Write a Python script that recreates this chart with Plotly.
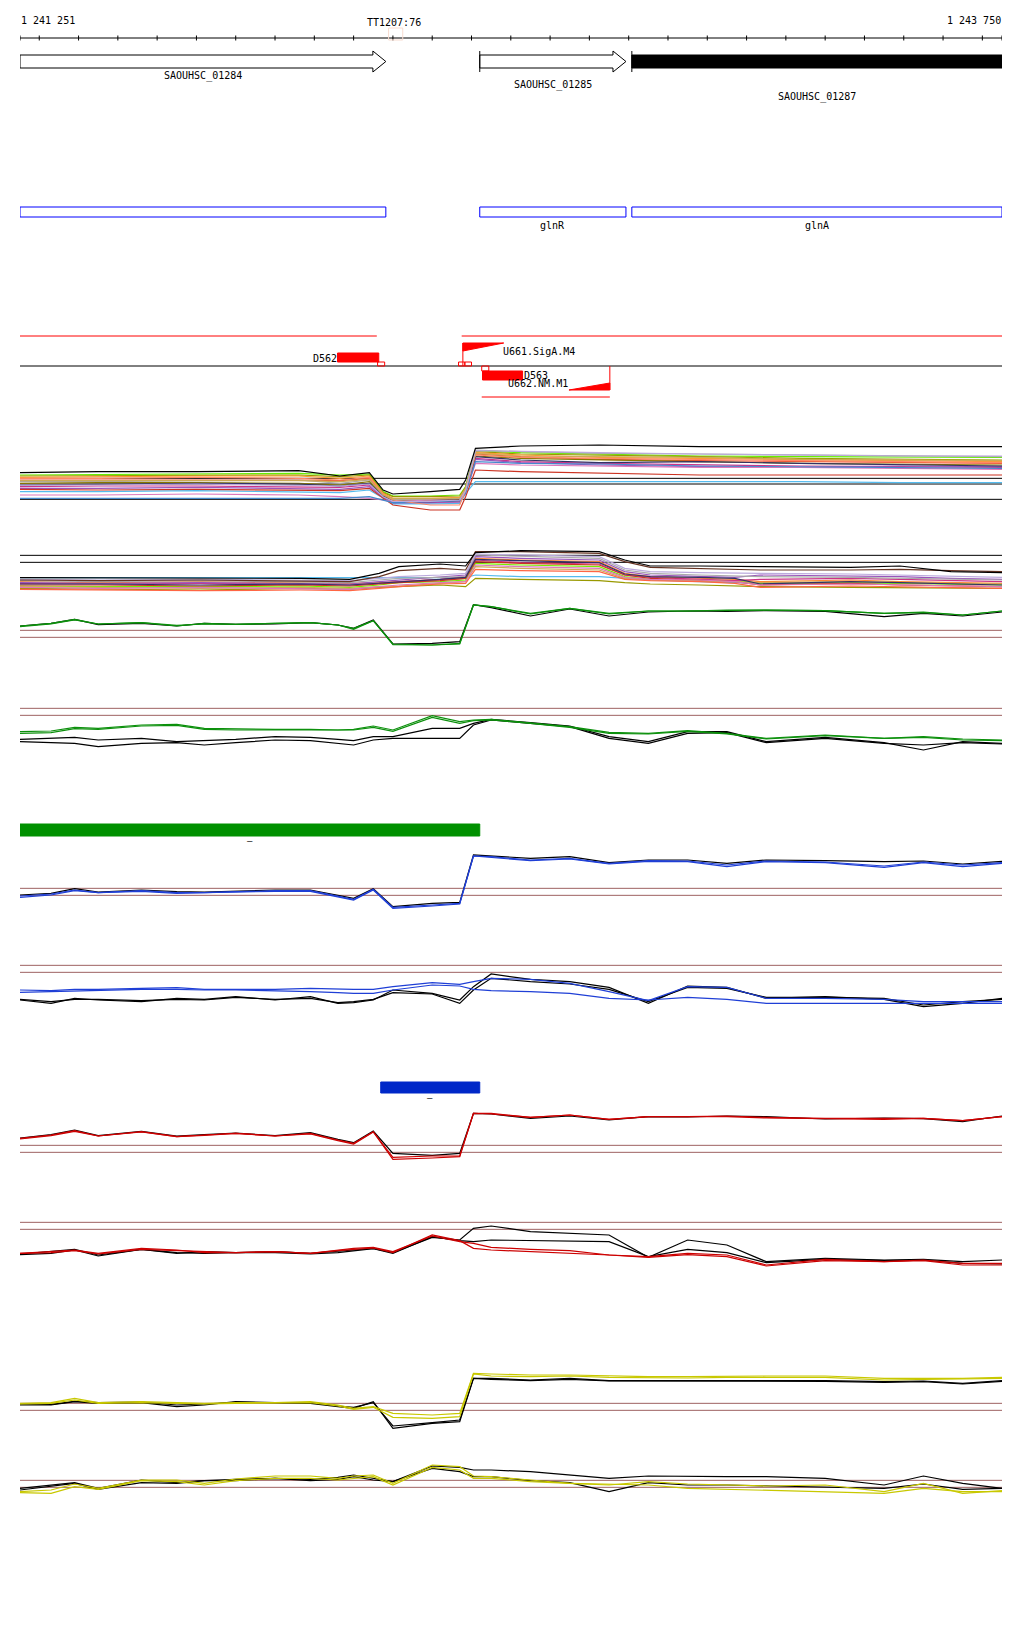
import plotly.graph_objects as go

# ── view window ─────────────────────────────────────────────
VIEW_START = 1241251
VIEW_END = 1243750
RULER_STEP = 100
TT_POS = 1242203
TT_LABEL = "TT1207:76"

# ── genes / CDS ─────────────────────────────────────────────
GENE_NAMES = ["SAOUHSC_01284", "SAOUHSC_01285", "SAOUHSC_01287"]
GENE_START = [1241251, 1242421, 1242808]
GENE_END = [1242182, 1242793, 1244400]
CDS_NAMES = ["", "glnR", "glnA"]
SELECTED_GENE = "SAOUHSC_01287"

# ── transcription units, TSS, segments ──────────────────────
SEG_NAMES = ["D562", "D563"]
SEG_START = [1242059, 1242428]
SEG_END = [1242164, 1242530]
SEG_STRAND = ["+", "-"]
TSS_NAMES = ["U661.SigA.M4", "U662.NM.M1"]
TSS_POS = [1242378, 1242752]
TSS_STRAND = ["+", "-"]
TU_PLUS = [(1241251, 1242159), (1242375, 1243750)]
TU_MINUS = [(1242426, 1242752)]
MARK_PLUS = [(1242161, 1242179), (1242367, 1242383), (1242383, 1242400)]
MARK_MINUS = [(1242426, 1242444)]

# ── condition bars ──────────────────────────────────────────
BAR_START = [1241251, 1242169]
BAR_END = [1242421, 1242421]
BAR_LABELS = ["–", "–"]

# ── expression profiles (arbitrary signal units) ────────────
X_T1 = [1241251, 1241450, 1241700, 1241960, 1242065, 1242140, 1242175, 1242200, 1242295,
        1242370, 1242385, 1242410, 1242525, 1242725, 1242980, 1243235, 1243490, 1243750]
T1_VALUES = [
    [135, 137, 138, 140, 135, 138, 85, 72, 72, 75, 100, 208, 202, 198, 192, 190, 188, 188],
    [132, 133, 134, 135, 130, 135, 82, 70, 70, 72, 98, 205, 198, 195, 190, 185, 182, 180],
    [128, 130, 132, 132, 125, 132, 80, 65, 65, 68, 95, 202, 195, 188, 185, 182, 178, 175],
    [120, 120, 122, 120, 118, 125, 75, 60, 58, 60, 90, 198, 190, 182, 178, 175, 172, 170],
    [115, 115, 118, 120, 110, 120, 75, 62, 62, 65, 92, 210, 205, 200, 198, 195, 192, 190],
    [110, 112, 112, 110, 105, 115, 72, 58, 58, 60, 88, 192, 185, 180, 175, 170, 168, 165],
    [100, 102, 102, 100, 98, 105, 70, 52, 52, 55, 85, 185, 175, 170, 165, 162, 160, 158],
    [95, 95, 98, 95, 92, 100, 68, 50, 50, 52, 82, 182, 172, 165, 160, 158, 162, 160],
    [105, 108, 110, 108, 102, 110, 72, 55, 55, 58, 87, 190, 180, 172, 175, 170, 165, 162],
    [85, 85, 88, 85, 82, 90, 65, 48, 48, 50, 80, 115, 115, 115, 115, 115, 112, 112],
    [92, 90, 92, 90, 88, 95, 65, 45, 30, 30, 70, 150, 145, 140, 135, 135, 135, 135],
    [75, 75, 78, 75, 70, 65, 60, 55, 60, 58, 80, 170, 165, 162, 158, 158, 155, 152],
    [65, 65, 65, 65, 65, 70, 60, 52, 55, 58, 80, 175, 170, 168, 162, 160, 158, 155],
    [125, 125, 128, 125, 120, 128, 78, 60, 45, 45, 90, 195, 188, 185, 180, 178, 175, 172],
    [118, 118, 120, 118, 115, 122, 75, 64, 64, 66, 92, 200, 192, 190, 188, 182, 180, 178],
    [105, 105, 108, 105, 102, 108, 70, 56, 56, 60, 88, 208, 205, 202, 198, 195, 192, 192],
    [142, 145, 145, 148, 132, 142, 90, 78, 85, 92, 120, 215, 222, 225, 220, 220, 220, 220],
]
T1_THR = [125, 108, 62]

X_T2 = [1241251, 1241455, 1241710, 1241965, 1242090, 1242165, 1242215, 1242320, 1242385, 1242410,
        1242525, 1242725, 1242790, 1242855, 1242980, 1243070, 1243135, 1243365, 1243490, 1243620, 1243750]
T2_VALUES = [
    [57, 57, 57, 57, 57, 57, 57, 57, 57, 65, 60, 60, 55, 50, 45, 42, 40, 42, 40, 38, 38],
    [45, 42, 45, 42, 40, 42, 45, 50, 55, 115, 110, 105, 70, 60, 55, 52, 45, 50, 45, 42, 40],
    [32, 30, 30, 32, 28, 35, 42, 45, 50, 100, 95, 90, 60, 52, 50, 48, 40, 42, 40, 38, 35],
    [25, 22, 20, 25, 22, 28, 30, 35, 30, 55, 52, 48, 42, 38, 35, 32, 30, 28, 27, 25, 25],
    [40, 38, 40, 38, 35, 40, 45, 52, 60, 110, 102, 98, 65, 58, 52, 48, 52, 55, 52, 48, 45],
    [42, 40, 42, 40, 38, 45, 50, 60, 65, 120, 115, 110, 75, 65, 62, 58, 65, 62, 60, 55, 52],
    [35, 35, 32, 35, 32, 38, 42, 48, 55, 105, 100, 95, 65, 55, 50, 45, 35, 40, 35, 32, 30],
    [30, 28, 25, 28, 25, 30, 32, 40, 45, 90, 85, 80, 55, 50, 48, 45, 42, 45, 42, 40, 38],
    [48, 45, 48, 45, 42, 50, 55, 58, 60, 125, 122, 115, 80, 70, 65, 62, 60, 58, 55, 52, 50],
    [38, 38, 35, 38, 35, 40, 45, 52, 58, 112, 108, 102, 68, 60, 58, 55, 38, 45, 42, 38, 35],
    [22, 20, 18, 20, 18, 25, 30, 38, 40, 82, 78, 75, 52, 48, 45, 40, 28, 32, 30, 28, 25],
    [52, 50, 52, 50, 48, 55, 60, 65, 70, 128, 125, 120, 85, 75, 72, 70, 70, 68, 65, 62, 58],
    [28, 25, 28, 25, 22, 30, 35, 42, 45, 95, 90, 85, 58, 52, 50, 45, 35, 38, 35, 32, 30],
    [50, 48, 50, 48, 45, 60, 78, 85, 80, 135, 135, 130, 105, 88, 85, 82, 80, 80, 82, 78, 75],
    [57, 57, 57, 55, 52, 70, 90, 98, 92, 132, 138, 135, 110, 92, 92, 90, 90, 88, 92, 75, 72],
]
T2_THR = [124, 103]

X_PAIR = [1241251, 1241330, 1241390, 1241450, 1241560, 1241650, 1241720, 1241800, 1241900, 1241990,
          1242060, 1242100, 1242150, 1242200, 1242300, 1242370, 1242405, 1242450, 1242550, 1242650,
          1242750, 1242850, 1242950, 1243050, 1243150, 1243300, 1243450, 1243550, 1243650, 1243750]

GREEN_FWD_BLACK = [82, 90, 102, 86, 90, 82, 90, 87, 88, 92, 85, 75, 100, 28, 30, 35, 146, 137, 112, 133, 112, 124, 127, 126, 128, 126, 110, 120, 112, 124]
GREEN_FWD_A = [82, 90, 102, 88, 92, 82, 90, 87, 90, 92, 85, 75, 98, 28, 25, 30, 145, 140, 118, 135, 118, 127, 127, 128, 130, 128, 120, 122, 115, 127]
GREEN_FWD_B = [80, 88, 100, 88, 92, 84, 88, 87, 90, 92, 85, 72, 98, 26, 25, 28, 145, 140, 120, 135, 120, 127, 127, 130, 130, 128, 120, 124, 115, 127]
GREEN_FWD_THR = [69, 48]

GREEN_REV_BLACK_A = [52, 55, 58, 50, 55, 45, 48, 52, 60, 58, 52, 48, 60, 60, 85, 85, 100, 112, 102, 92, 60, 45, 75, 75, 45, 58, 42, 20, 45, 40]
GREEN_REV_BLACK_B = [45, 42, 40, 30, 40, 42, 35, 42, 50, 48, 40, 35, 50, 55, 55, 55, 95, 110, 100, 90, 55, 40, 70, 72, 42, 55, 40, 35, 42, 38]
GREEN_REV_A = [75, 77, 88, 85, 95, 97, 85, 83, 82, 82, 80, 82, 92, 80, 123, 105, 110, 112, 102, 90, 73, 70, 78, 70, 55, 65, 55, 60, 53, 50]
GREEN_REV_B = [70, 72, 84, 82, 92, 94, 82, 80, 80, 80, 78, 80, 88, 76, 118, 100, 108, 110, 100, 88, 70, 68, 76, 68, 53, 63, 55, 58, 50, 48]
GREEN_REV_THR = [145, 124]

BLUE_FWD_BLACK = [55, 60, 74, 64, 70, 65, 64, 66, 70, 70, 55, 45, 74, 20, 30, 33, 175, 172, 165, 170, 152, 160, 160, 150, 160, 158, 155, 157, 148, 156]
BLUE_FWD_A = [52, 58, 70, 62, 68, 62, 62, 65, 68, 68, 52, 42, 72, 18, 25, 30, 172, 170, 160, 165, 150, 158, 157, 145, 157, 154, 142, 154, 145, 152]
BLUE_FWD_B = [48, 55, 68, 62, 66, 60, 62, 64, 66, 66, 48, 40, 70, 15, 22, 28, 172, 168, 158, 163, 148, 156, 155, 140, 155, 152, 138, 152, 140, 150]
BLUE_FWD_THR = [75, 54]

BLUE_REV_BLACK_A = [40, 30, 45, 40, 35, 45, 42, 50, 40, 50, 30, 32, 40, 70, 60, 40, 80, 118, 102, 95, 78, 30, 82, 78, 45, 50, 42, 20, 30, 45]
BLUE_REV_BLACK_B = [42, 35, 42, 42, 38, 42, 40, 48, 42, 45, 32, 35, 42, 62, 58, 30, 70, 105, 95, 88, 72, 35, 78, 75, 48, 48, 45, 25, 35, 42]
BLUE_REV_A = [70, 68, 72, 72, 75, 77, 72, 72, 72, 75, 72, 72, 72, 80, 92, 87, 95, 105, 102, 90, 65, 38, 80, 78, 45, 45, 42, 35, 35, 35]
BLUE_REV_B = [63, 65, 68, 70, 72, 72, 70, 70, 68, 65, 62, 60, 60, 70, 85, 82, 72, 68, 65, 60, 45, 40, 48, 42, 30, 30, 32, 30, 32, 30]
BLUE_REV_THR = [144, 123]

RED_FWD_BLACK = [86, 96, 110, 93, 106, 92, 96, 101, 93, 102, 82, 72, 107, 40, 34, 40, 160, 158, 145, 152, 140, 150, 149, 152, 150, 143, 146, 144, 135, 152]
RED_FWD_A = [85, 95, 108, 92, 105, 90, 95, 100, 92, 100, 80, 70, 105, 28, 32, 32, 160, 160, 148, 155, 142, 150, 150, 152, 148, 145, 145, 145, 138, 150]
RED_FWD_B = [83, 93, 106, 92, 104, 90, 94, 100, 92, 98, 78, 68, 104, 22, 26, 30, 160, 158, 148, 155, 142, 150, 150, 150, 146, 145, 142, 145, 138, 150]
RED_FWD_THR = [64, 43]

RED_REV_BLACK_A = [48, 55, 62, 45, 62, 50, 55, 52, 55, 50, 55, 60, 65, 52, 98, 90, 125, 132, 115, 110, 105, 38, 90, 75, 25, 35, 30, 32, 25, 30]
RED_REV_BLACK_B = [46, 50, 60, 42, 62, 52, 50, 52, 52, 48, 52, 58, 64, 50, 100, 88, 85, 90, 88, 85, 85, 40, 62, 52, 22, 32, 28, 30, 20, 18]
RED_REV_A = [50, 55, 60, 50, 65, 60, 52, 52, 55, 50, 60, 65, 68, 55, 102, 85, 80, 68, 62, 58, 45, 40, 50, 45, 15, 32, 25, 30, 20, 20]
RED_REV_B = [50, 52, 58, 48, 62, 58, 55, 52, 55, 50, 58, 62, 66, 52, 105, 88, 65, 60, 55, 52, 45, 38, 46, 40, 12, 28, 25, 28, 15, 15]
RED_REV_THR = [143, 122]

YEL_FWD_BLACK_A = [85, 85, 95, 90, 92, 80, 85, 95, 92, 90, 80, 75, 95, 15, 30, 35, 165, 165, 160, 165, 158, 158, 158, 160, 158, 158, 155, 157, 150, 158]
YEL_FWD_BLACK_B = [88, 87, 96, 92, 94, 85, 88, 93, 92, 92, 82, 78, 92, 22, 32, 40, 165, 162, 158, 162, 157, 157, 156, 158, 156, 156, 153, 155, 148, 156]
YEL_FWD_A = [90, 92, 105, 92, 95, 92, 90, 92, 92, 95, 85, 75, 80, 60, 55, 60, 180, 178, 175, 175, 172, 170, 170, 172, 172, 172, 165, 165, 165, 168]
YEL_FWD_B = [88, 90, 100, 90, 92, 90, 88, 90, 90, 92, 82, 72, 78, 48, 45, 50, 178, 172, 170, 172, 168, 166, 166, 168, 168, 168, 160, 162, 162, 165]
YEL_FWD_THR = [90, 69]

YEL_REV_BLACK_A = [35, 45, 52, 35, 60, 52, 58, 62, 65, 62, 68, 75, 65, 55, 102, 98, 90, 90, 85, 75, 65, 72, 70, 70, 70, 65, 45, 72, 50, 35]
YEL_REV_BLACK_B = [30, 42, 50, 32, 52, 50, 58, 58, 65, 58, 62, 70, 60, 55, 95, 85, 70, 70, 58, 52, 25, 52, 45, 45, 42, 38, 35, 48, 32, 35]
YEL_REV_A = [25, 30, 48, 35, 60, 60, 50, 63, 72, 72, 65, 72, 75, 50, 105, 100, 72, 70, 60, 50, 45, 55, 48, 45, 42, 45, 25, 50, 20, 28]
YEL_REV_B = [22, 20, 40, 32, 58, 55, 45, 58, 65, 65, 60, 65, 70, 45, 98, 90, 65, 65, 55, 50, 48, 45, 35, 32, 28, 25, 20, 35, 25, 25]
YEL_REV_THR = [59, 38]

# ── style ───────────────────────────────────────────────────
H, W = 1640, 1024
FONT = "DejaVu Sans Mono"
RED = "#ff0000"
BROWN = "#9e6262"
GREEN = "#0c900c"
BLUE = "#1f3fd6"
DARKRED = "#cc0000"
YELLOW = "#c8c800"
T1_COLORS = ["#66ee00", "#999900", "#ff9933", "#ee5533", "#aaaaaa", "#887700", "#cc3388", "#9955bb",
             "#333366", "#55bbee", "#cc3322", "#dd77bb", "#4488cc", "#ff8866", "#ccaa55", "#bbaadd", "#000000"]
T2_COLORS = ["#55bbee", "#ff8833", "#77ee00", "#999900", "#cc3388", "#9955bb", "#cc3322", "#ccaa55",
             "#aaaaaa", "#333366", "#ff6644", "#bbaadd", "#dd77bb", "#663322", "#000000"]

# pixel rows of the annotation tracks (layout only)
RULER_Y, LABEL_Y = 38, 20
GENE_Y0, GENE_Y1, HEAD_Y0, HEAD_Y1 = 55, 68, 51, 72
HEAD_BP = 33
GENE_LABEL_Y = [76, 85, 97]
CDS_Y0, CDS_Y1, CDS_LABEL_Y = 207, 217, 225
TU_PLUS_Y, AXIS_Y, TU_MINUS_Y = 336, 366, 397
TRI_BP = 104
BAR_ROWS = [(824, 836), (1082, 1093)]
BAR_COLORS = ["#009000", "#0028c8"]

shapes, annotations = [], []


def txt(x, y, s, anchor="center", size=10):
    annotations.append(dict(x=x, y=y, xref="x", yref="y", text=s, showarrow=False,
                            xanchor=anchor, yanchor="middle", borderpad=0,
                            font=dict(family=FONT, size=size, color="#000000")))


def line(x0, y0, x1, y1, color="#000000", width=1, yref="y", layer="above"):
    shapes.append(dict(type="line", xref="x", yref=yref, x0=x0, y0=y0, x1=x1, y1=y1,
                       line=dict(color=color, width=width), layer=layer))


def rect(x0, y0, x1, y1, fill=None, color="#000000"):
    shapes.append(dict(type="rect", xref="x", yref="y", x0=x0, y0=y0, x1=x1, y1=y1,
                       fillcolor=fill or "rgba(0,0,0,0)", line=dict(color=color, width=1)))


def path(points, fill, color):
    d = "M " + " L ".join(f"{x},{y}" for x, y in points) + " Z"
    shapes.append(dict(type="path", xref="x", yref="y", path=d, fillcolor=fill,
                       line=dict(color=color, width=1)))


fig = go.Figure()

# ── ruler ──
ticks = [VIEW_START] + list(range(1241300, VIEW_END, RULER_STEP)) + [VIEW_END]
tx, ty = [VIEW_START, VIEW_END, None], [RULER_Y, RULER_Y, None]
for t in ticks:
    tx += [t, t, None]
    ty += [RULER_Y - 2.5, RULER_Y + 2.5, None]
fig.add_trace(go.Scatter(x=tx, y=ty, mode="lines", line=dict(color="#000000", width=1),
                         hoverinfo="skip", xaxis="x", yaxis="y"))
txt(VIEW_START, LABEL_Y, f"{VIEW_START:,}".replace(",", " "), "left")
txt(VIEW_END, LABEL_Y, f"{VIEW_END:,}".replace(",", " "), "right")
txt(TT_POS, LABEL_Y + 2, TT_LABEL)
rect(TT_POS - 14, 28, TT_POS + 22, 40, color="#f8dcd0")

# ── genes ──
for name, s, e, ly in zip(GENE_NAMES, GENE_START, GENE_END, GENE_LABEL_Y):
    ve = min(e, VIEW_END)
    if name == SELECTED_GENE:
        rect(s, GENE_Y0, ve, GENE_Y1, fill="#000000")
    else:
        h = e - HEAD_BP
        ym = (HEAD_Y0 + HEAD_Y1) / 2
        path([(s, GENE_Y0), (h, GENE_Y0), (h, HEAD_Y0), (e, ym), (h, HEAD_Y1), (h, GENE_Y1), (s, GENE_Y1)],
             "#ffffff", "#000000")
    if s > VIEW_START:
        line(s, HEAD_Y0, s, HEAD_Y1)
    txt((s + ve) / 2, ly, name)

# ── CDS boxes ──
for name, s, e in zip(CDS_NAMES, GENE_START, GENE_END):
    ve = min(e, VIEW_END)
    rect(s, CDS_Y0, ve, CDS_Y1, color="#0000ff")
    if name:
        txt((s + ve) / 2, CDS_LABEL_Y, name)

# ── transcription units ──
for s, e in TU_PLUS:
    line(s, TU_PLUS_Y, e, TU_PLUS_Y, RED)
for s, e in TU_MINUS:
    line(s, TU_MINUS_Y, e, TU_MINUS_Y, RED)
line(VIEW_START, AXIS_Y, VIEW_END, AXIS_Y)
for s, e in MARK_PLUS:
    rect(s, AXIS_Y - 4, e, AXIS_Y, color=RED)
for s, e in MARK_MINUS:
    rect(s, AXIS_Y, e, AXIS_Y + 5, color=RED)
for name, s, e, st in zip(SEG_NAMES, SEG_START, SEG_END, SEG_STRAND):
    if st == "+":
        rect(s, 353, e, 362, fill=RED, color=RED)
        txt(s, 358, name, "right")
    else:
        rect(s, 371, e, 380, fill=RED, color=RED)
        txt(e, 375, name, "left")
for name, p, st in zip(TSS_NAMES, TSS_POS, TSS_STRAND):
    if st == "+":
        line(p, AXIS_Y, p, 343, RED)
        path([(p, 343), (p + TRI_BP, 343), (p, 351)], RED, RED)
        txt(p + TRI_BP - 4, 351, name, "left")
    else:
        line(p, AXIS_Y, p, 390, RED)
        path([(p, 390), (p - TRI_BP, 390), (p, 383)], RED, RED)
        txt(p - TRI_BP, 383, name, "right")

# ── condition bars ──
for s, e, lab, (y0, y1), c in zip(BAR_START, BAR_END, BAR_LABELS, BAR_ROWS, BAR_COLORS):
    rect(s, y0, e, y1, fill=c, color=c)
    txt((s + e) / 2, y1 + 5, lab, size=9)

# ── expression tracks ──
TRACKS = [
    (430, 520, X_T1, T1_VALUES, T1_COLORS, T1_THR, "#000000"),
    (540, 596.67, X_T2, T2_VALUES, T2_COLORS, T2_THR, "#000000"),
    (596.67, 653.33, X_PAIR, [GREEN_FWD_BLACK, GREEN_FWD_A, GREEN_FWD_B],
     ["#000000", GREEN, GREEN], GREEN_FWD_THR, BROWN),
    (700, 756.67, X_PAIR, [GREEN_REV_BLACK_A, GREEN_REV_BLACK_B, GREEN_REV_A, GREEN_REV_B],
     ["#000000", "#000000", GREEN, GREEN], GREEN_REV_THR, BROWN),
    (846.67, 913.33, X_PAIR, [BLUE_FWD_BLACK, BLUE_FWD_A, BLUE_FWD_B],
     ["#000000", BLUE, BLUE], BLUE_FWD_THR, BROWN),
    (950, 1013.33, X_PAIR, [BLUE_REV_BLACK_A, BLUE_REV_BLACK_B, BLUE_REV_A, BLUE_REV_B],
     ["#000000", "#000000", BLUE, BLUE], BLUE_REV_THR, BROWN),
    (1100, 1166.67, X_PAIR, [RED_FWD_BLACK, RED_FWD_A, RED_FWD_B],
     ["#000000", DARKRED, DARKRED], RED_FWD_THR, BROWN),
    (1210, 1270, X_PAIR, [RED_REV_BLACK_A, RED_REV_BLACK_B, RED_REV_A, RED_REV_B],
     ["#000000", "#000000", DARKRED, DARKRED], RED_REV_THR, BROWN),
    (1366.67, 1433.33, X_PAIR, [YEL_FWD_BLACK_A, YEL_FWD_BLACK_B, YEL_FWD_A, YEL_FWD_B],
     ["#000000", "#000000", YELLOW, YELLOW], YEL_FWD_THR, BROWN),
    (1460, 1500, X_PAIR, [YEL_REV_BLACK_A, YEL_REV_BLACK_B, YEL_REV_A, YEL_REV_B],
     ["#000000", "#000000", YELLOW, YELLOW], YEL_REV_THR, BROWN),
]

axes = {}
for i, (top, bottom, xs, series, colors, thr, thr_color) in enumerate(TRACKS, start=2):
    yname = f"y{i}"
    axes[f"yaxis{i}"] = dict(domain=[1 - bottom / H, 1 - top / H], range=[0, (bottom - top) * 3],
                             visible=False, anchor="x", fixedrange=True)
    for v in thr:
        line(VIEW_START, v, VIEW_END, v, thr_color, 1, yref=yname, layer="below")
    for vals, c in zip(series, colors):
        fig.add_trace(go.Scatter(x=xs, y=vals, mode="lines", line=dict(color=c, width=1.2),
                                 hoverinfo="skip", xaxis="x", yaxis=yname))

fig.update_layout(
    width=W, height=H,
    margin=dict(l=20, r=22, t=0, b=0, pad=0),
    paper_bgcolor="#ffffff",
    plot_bgcolor="rgba(0,0,0,0)",
    showlegend=False,
    xaxis=dict(range=[VIEW_START, VIEW_END], visible=False, fixedrange=True),
    yaxis=dict(range=[H, 0], visible=False, fixedrange=True),
    shapes=shapes,
    annotations=annotations,
    **axes,
)

fig.write_html("out.html", config={"displayModeBar": False},
               post_script="document.body.style.margin='0';")
